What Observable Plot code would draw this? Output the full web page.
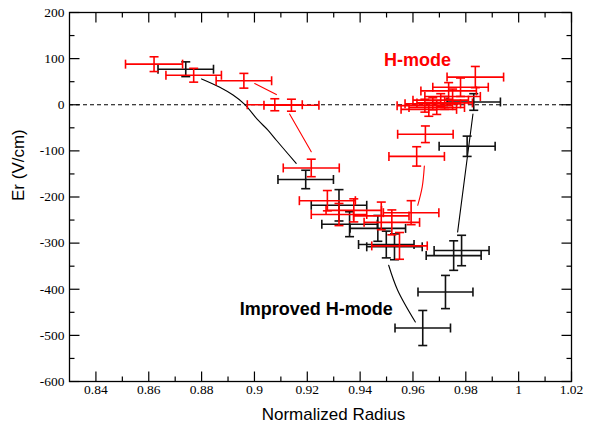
<!DOCTYPE html>
<html>
<head>
<meta charset="utf-8">
<script src="https://cdn.jsdelivr.net/npm/d3@7"></script>
<script src="https://cdn.jsdelivr.net/npm/@observablehq/plot@0.6"></script>
<style>
  body { margin: 0; background: #fff; }
</style>
</head>
<body>
<div id="chart"></div>
<script>
// Improved H-mode radial electric field profile
const impRadius = [0.874, 0.9194, 0.932, 0.936, 0.9467, 0.9499, 0.9530, 0.9754, 0.9784, 0.9723, 0.9637, 0.9805, 0.983];
const impEr     = [77, -162, -218, -259, -268, -303, -308, -327, -316, -406, -484, -90, 6];
const impRadErr = [0.0105, 0.0105, 0.0105, 0.0105, 0.0105, 0.0105, 0.0105, 0.0104, 0.0104, 0.0104, 0.0105, 0.0106, 0.0101];
const impErErr  = [16, 20, 34, 27, 28, 29, 28, 32, 33, 36, 38, 22, 18];

// H-mode radial electric field profile
const hRadius = [0.862, 0.877, 0.896, 0.9077, 0.914, 0.9215, 0.9276, 0.932, 0.9376, 0.948, 0.952, 0.9593, 0.9549, 0.9614, 0.9647,
                 0.9836, 0.978, 0.9735, 0.975, 0.9705, 0.9675, 0.9645, 0.969, 0.972, 0.966];
const hEr     = [88, 64, 52, 0, -1, -137, -208, -238, -229, -241, -255, -234, -306, -112, -64,
                 60, 38, 30, 18, 10, 2, -2, -6, 4, -10];
const hRadErr = [0.0108, 0.0105, 0.0105, 0.0104, 0.0104, 0.0106, 0.0106, 0.0105, 0.0105, 0.0105, 0.0105, 0.0105, 0.0105, 0.0105, 0.0105,
                 0.0107, 0.0105, 0.0105, 0.0105, 0.0105, 0.0105, 0.0105, 0.0105, 0.0105, 0.0105];
const hErErr  = [16, 15, 16, 13, 13, 19, 22, 24, 25, 30, 27, 26, 29, 21, 18,
                 23, 20, 18, 16, 14, 13, 14, 15, 14, 15];

// hand-drawn guide lines linking the time slices
const impGuideA = {r: [0.880, 0.8869, 0.8919, 0.8963, 0.9013, 0.9051, 0.9083, 0.9158], e: [56, 38, 21, 1, -33, -55, -77, -127]};
const impGuideB = {r: [0.9827, 0.9769], e: [-20, -276]};
const impGuideC = {r: [0.9508, 0.9542, 0.9609], e: [-348, -402, -471]};
const hGuideA = {r: [0.9001, 0.9083], e: [46, 22]};
const hGuideB = {r: [0.9133, 0.9215], e: [-20, -102]};
const hGuideC = {r: [0.9643, 0.9635, 0.9618], e: [-133, -178, -218]};

// axes
const xDomain = [0.83, 1.02];
const yDomain = [-600, 200];
const xMajor = [0.84, 0.86, 0.88, 0.90, 0.92, 0.94, 0.96, 0.98, 1.00, 1.02];
const xMinor = [0.85, 0.87, 0.89, 0.91, 0.93, 0.95, 0.97, 0.99, 1.01];
const yMajor = [-600, -500, -400, -300, -200, -100, 0, 100, 200];
const yMinor = [-550, -450, -350, -250, -150, -50, 50, 150];

const toRows = (xs, ys, xe, ye) => xs.map((x, i) => ({x, y: ys[i], xe: xe[i], ye: ye[i]}));
const toLine = g => g.r.map((r, i) => ({x: r, y: g.e[i]}));

const imp = toRows(impRadius, impEr, impRadErr, impErErr);
const hmode = toRows(hRadius, hEr, hRadErr, hErErr);

// line-segment symbols used for error-bar caps and inward tick marks
const seg = (x1, y1, x2, y2) => ({draw(ctx) { ctx.moveTo(x1, y1); ctx.lineTo(x2, y2); }});
const capAcross = seg(-4.5, 0, 4.5, 0);
const capUpDown = seg(0, -4.5, 0, 4.5);

function errorBars(rows, color) {
  const common = {stroke: color, strokeWidth: 1.6};
  return [
    Plot.link(rows, {x1: d => d.x - d.xe, x2: d => d.x + d.xe, y1: "y", y2: "y", ...common}),
    Plot.link(rows, {x1: "x", x2: "x", y1: d => d.y - d.ye, y2: d => d.y + d.ye, ...common}),
    Plot.dot(rows.flatMap(d => [{x: d.x - d.xe, y: d.y}, {x: d.x + d.xe, y: d.y}]),
      {x: "x", y: "y", r: 1, symbol: capUpDown, fill: "none", ...common}),
    Plot.dot(rows.flatMap(d => [{x: d.x, y: d.y - d.ye}, {x: d.x, y: d.y + d.ye}]),
      {x: "x", y: "y", r: 1, symbol: capAcross, fill: "none", ...common})
  ];
}

function tickMarks(values, len) {
  const s = {r: 1, fill: "none", stroke: "black", strokeWidth: 1.2};
  return [
    Plot.dot(values.x, {x: d => d, y: () => yDomain[0], symbol: seg(0, 0, 0, -len), ...s}),
    Plot.dot(values.x, {x: d => d, y: () => yDomain[1], symbol: seg(0, 0, 0, len), ...s}),
    Plot.dot(values.y, {y: d => d, x: () => xDomain[0], symbol: seg(0, 0, len, 0), ...s}),
    Plot.dot(values.y, {y: d => d, x: () => xDomain[1], symbol: seg(0, 0, -len, 0), ...s})
  ];
}

const serif = "Liberation Serif";
const sans = "Liberation Sans";

const chart = Plot.plot({
  width: 609,
  height: 430,
  marginLeft: 69,
  marginRight: 38,
  marginTop: 12,
  marginBottom: 49,
  style: {background: "#fff"},
  x: {domain: xDomain, axis: null},
  y: {domain: yDomain, axis: null},
  marks: [
    Plot.ruleY([0], {stroke: "black", strokeWidth: 1.2, strokeDasharray: "4,3"}),
    Plot.line(toLine(impGuideA), {x: "x", y: "y", stroke: "black", strokeWidth: 1.1, curve: "catmull-rom"}),
    Plot.line(toLine(impGuideB), {x: "x", y: "y", stroke: "black", strokeWidth: 1.1}),
    Plot.line(toLine(impGuideC), {x: "x", y: "y", stroke: "black", strokeWidth: 1.1, curve: "catmull-rom"}),
    Plot.line(toLine(hGuideA), {x: "x", y: "y", stroke: "#ff0000", strokeWidth: 1.1}),
    Plot.line(toLine(hGuideB), {x: "x", y: "y", stroke: "#ff0000", strokeWidth: 1.1}),
    Plot.line(toLine(hGuideC), {x: "x", y: "y", stroke: "#ff0000", strokeWidth: 1.1, curve: "catmull-rom"}),
    ...errorBars(imp, "#111"),
    ...errorBars(hmode, "#ff0000"),
    ...tickMarks({x: xMajor, y: yMajor}, 10),
    ...tickMarks({x: xMinor, y: yMinor}, 5),
    Plot.frame({stroke: "black", strokeWidth: 1.3}),
    // tick labels
    Plot.text(xMajor, {x: d => d, frameAnchor: "bottom", dy: 12, text: d => String(+d.toFixed(2)),
      fontSize: 13.5, fontFamily: serif, fill: "black"}),
    Plot.text(yMajor, {y: d => d, frameAnchor: "left", dx: -5, textAnchor: "end", text: d => String(d),
      fontSize: 13.5, fontFamily: serif, fill: "black"}),
    // axis titles and annotations
    Plot.text(["Normalized Radius"], {frameAnchor: "bottom", dx: 13, dy: 38.5, fontSize: 17,
      fontFamily: sans, fill: "black"}),
    Plot.text(["Er (V/cm)"], {frameAnchor: "left", rotate: -90, dx: -51, dy: 4, fontSize: 17,
      fontFamily: sans, fill: "black"}),
    Plot.text(["H-mode"], {x: () => 0.9617, y: () => 96, fontSize: 18, fontWeight: "bold",
      fontFamily: sans, fill: "#ff0000"}),
    Plot.text(["Improved H-mode"], {x: () => 0.8944, y: () => -444, textAnchor: "start", fontSize: 18, fontWeight: "bold",
      fontFamily: sans, fill: "black"})
  ]
});

document.getElementById("chart").appendChild(chart);
</script>
</body>
</html>
